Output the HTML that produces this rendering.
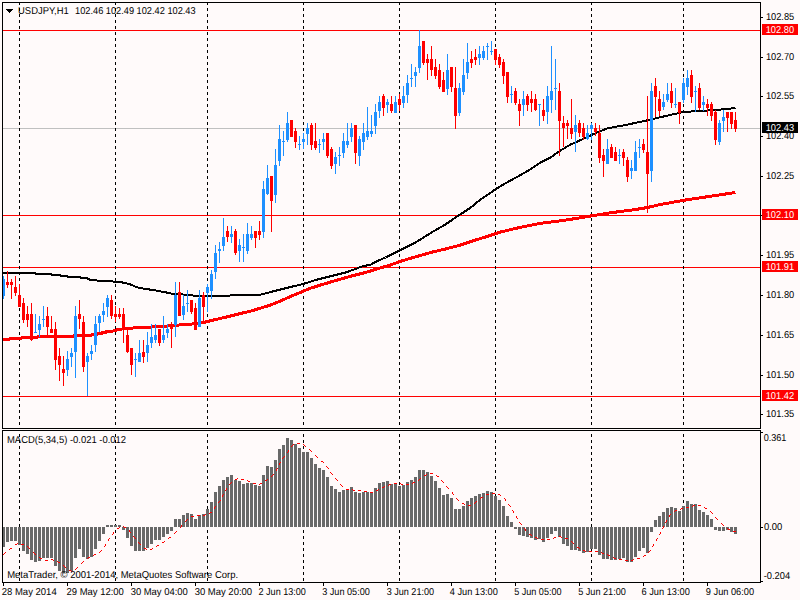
<!DOCTYPE html><html><head><meta charset="utf-8"><style>
html,body{margin:0;padding:0;background:#FFFAFA;width:800px;height:600px;overflow:hidden}
svg{display:block}
text{font-family:"Liberation Sans", sans-serif;font-size:10px;fill:#000;text-rendering:geometricPrecision}
</style></head><body>
<svg width="800" height="600" viewBox="0 0 800 600">
<rect x="0" y="0" width="800" height="600" fill="#FFFAFA"/>
<defs><clipPath id="mainclip"><rect x="3" y="3" width="757" height="425"/></clipPath></defs>
<g shape-rendering="crispEdges">
<rect x="3" y="128" width="757" height="1" fill="#C0C0C0"/>
<rect x="3" y="30" width="757" height="1" fill="#FF0000"/>
<rect x="3" y="215" width="757" height="1" fill="#FF0000"/>
<rect x="3" y="267" width="757" height="1" fill="#FF0000"/>
<rect x="3" y="396" width="757" height="1" fill="#FF0000"/>
</g>
<g shape-rendering="crispEdges" stroke="#000" stroke-width="1" stroke-dasharray="3 3">
<line x1="19.5" y1="2" x2="19.5" y2="428"/>
<line x1="19.5" y1="434" x2="19.5" y2="582"/>
<line x1="115.5" y1="2" x2="115.5" y2="428"/>
<line x1="115.5" y1="434" x2="115.5" y2="582"/>
<line x1="207.5" y1="2" x2="207.5" y2="428"/>
<line x1="207.5" y1="434" x2="207.5" y2="582"/>
<line x1="303.5" y1="2" x2="303.5" y2="428"/>
<line x1="303.5" y1="434" x2="303.5" y2="582"/>
<line x1="399.5" y1="2" x2="399.5" y2="428"/>
<line x1="399.5" y1="434" x2="399.5" y2="582"/>
<line x1="495.5" y1="2" x2="495.5" y2="428"/>
<line x1="495.5" y1="434" x2="495.5" y2="582"/>
<line x1="591.5" y1="2" x2="591.5" y2="428"/>
<line x1="591.5" y1="434" x2="591.5" y2="582"/>
<line x1="683.5" y1="2" x2="683.5" y2="428"/>
<line x1="683.5" y1="434" x2="683.5" y2="582"/>
</g>
<polyline points="1.50,273.00 34.50,273.00 36.50,274.00 50.50,274.00 52.50,275.00 59.50,275.00 61.50,276.00 66.50,276.00 68.50,277.00 79.50,277.00 81.50,278.00 86.50,278.00 89.50,279.50 100.50,280.90 111.50,281.00 114.50,282.10 122.50,282.50 125.50,283.10 131.50,284.75 136.50,287.25 144.50,288.75 154.50,290.25 166.50,292.50 170.50,293.50 175.50,294.00 190.50,295.00 195.50,296.00 220.50,296.00 230.50,295.50 250.50,295.00 259.50,295.00 270.50,292.00 280.50,289.50 290.50,287.00 300.50,284.70 305.50,283.20 315.50,280.00 330.50,276.25 345.50,272.50 355.50,269.00 362.50,266.25 370.50,264.75 375.50,261.90 385.50,257.50 400.50,250.00 415.50,242.50 430.50,233.10 445.50,224.40 458.50,215.60 470.50,207.75 480.50,199.40 490.50,193.00 495.50,189.20 505.50,183.30 520.50,175.00 530.50,169.20 540.50,162.50 550.50,157.50 560.50,150.50 570.50,144.50 577.50,141.50 590.50,135.50 600.50,131.00 607.50,128.30 625.50,125.00 635.50,122.90 647.50,120.30 663.50,116.50 683.50,112.00 695.50,111.20 717.50,109.90 735.50,108.00" fill="none" stroke="#000" stroke-width="2" stroke-linejoin="round" stroke-linecap="butt" shape-rendering="crispEdges" clip-path="url(#mainclip)"/>
<polyline points="1.50,339.50 8.50,339.50 10.50,338.50 20.50,338.50 22.50,337.50 36.50,337.50 38.50,336.50 72.50,336.50 74.50,335.50 90.50,335.50 92.50,334.50 96.50,334.50 97.50,333.50 101.50,333.50 102.50,332.50 105.50,332.50 106.50,331.50 112.50,331.10 118.50,329.40 127.50,328.40 142.50,327.40 163.50,326.40 179.50,325.00 190.50,324.10 198.50,323.60 203.50,322.50 213.50,320.00 225.50,317.30 240.50,313.50 250.50,311.20 260.50,308.10 270.50,305.10 280.50,301.00 290.50,296.50 300.50,292.40 306.50,289.75 310.50,288.25 320.50,285.00 335.50,280.60 350.50,276.25 365.50,272.50 375.50,269.40 390.50,265.00 400.50,261.25 415.50,256.90 430.50,252.50 445.50,249.00 460.50,245.00 475.50,240.00 485.50,237.00 500.50,232.00 520.50,227.30 540.50,223.30 560.50,220.80 580.50,217.80 590.50,216.00 610.50,212.80 635.50,209.50 647.50,207.50 660.50,204.50 685.50,200.00 710.50,196.25 735.50,192.50" fill="none" stroke="#FF0000" stroke-width="3" stroke-linejoin="round" stroke-linecap="butt" shape-rendering="crispEdges" clip-path="url(#mainclip)"/>
<g shape-rendering="crispEdges">
<rect x="3" y="276" width="1" height="23" fill="#1E90FF"/>
<rect x="2" y="279" width="3" height="17" fill="#1E90FF"/>
<rect x="7" y="271" width="1" height="17" fill="#FF0000"/>
<rect x="6" y="282" width="3" height="3" fill="#FF0000"/>
<rect x="11" y="279" width="1" height="20" fill="#FF0000"/>
<rect x="10" y="282" width="3" height="3" fill="#FF0000"/>
<rect x="15" y="276" width="1" height="20" fill="#FF0000"/>
<rect x="14" y="287" width="3" height="6" fill="#FF0000"/>
<rect x="19" y="284" width="1" height="23" fill="#FF0000"/>
<rect x="18" y="295" width="3" height="12" fill="#FF0000"/>
<rect x="23" y="298" width="1" height="25" fill="#FF0000"/>
<rect x="22" y="303" width="3" height="17" fill="#FF0000"/>
<rect x="27" y="306" width="1" height="21" fill="#FF0000"/>
<rect x="26" y="314" width="3" height="6" fill="#FF0000"/>
<rect x="31" y="303" width="1" height="38" fill="#FF0000"/>
<rect x="30" y="314" width="3" height="26" fill="#FF0000"/>
<rect x="35" y="314" width="1" height="19" fill="#1E90FF"/>
<rect x="34" y="332" width="3" height="1" fill="#1E90FF"/>
<rect x="39" y="316" width="1" height="21" fill="#1E90FF"/>
<rect x="38" y="324" width="3" height="6" fill="#1E90FF"/>
<rect x="43" y="306" width="1" height="21" fill="#1E90FF"/>
<rect x="42" y="319" width="3" height="1" fill="#1E90FF"/>
<rect x="47" y="307" width="1" height="28" fill="#FF0000"/>
<rect x="46" y="316" width="3" height="11" fill="#FF0000"/>
<rect x="51" y="316" width="1" height="17" fill="#FF0000"/>
<rect x="50" y="329" width="3" height="4" fill="#FF0000"/>
<rect x="55" y="322" width="1" height="48" fill="#FF0000"/>
<rect x="54" y="329" width="3" height="31" fill="#FF0000"/>
<rect x="59" y="348" width="1" height="33" fill="#FF0000"/>
<rect x="58" y="356" width="3" height="9" fill="#FF0000"/>
<rect x="63" y="356" width="1" height="30" fill="#FF0000"/>
<rect x="62" y="369" width="3" height="4" fill="#FF0000"/>
<rect x="67" y="351" width="1" height="25" fill="#1E90FF"/>
<rect x="66" y="359" width="3" height="11" fill="#1E90FF"/>
<rect x="71" y="348" width="1" height="19" fill="#1E90FF"/>
<rect x="70" y="353" width="3" height="4" fill="#1E90FF"/>
<rect x="75" y="306" width="1" height="72" fill="#1E90FF"/>
<rect x="74" y="316" width="3" height="36" fill="#1E90FF"/>
<rect x="79" y="300" width="1" height="29" fill="#FF0000"/>
<rect x="78" y="314" width="3" height="5" fill="#FF0000"/>
<rect x="83" y="316" width="1" height="56" fill="#FF0000"/>
<rect x="82" y="322" width="3" height="45" fill="#FF0000"/>
<rect x="87" y="353" width="1" height="43" fill="#1E90FF"/>
<rect x="86" y="356" width="3" height="6" fill="#1E90FF"/>
<rect x="91" y="345" width="1" height="15" fill="#1E90FF"/>
<rect x="90" y="351" width="3" height="3" fill="#1E90FF"/>
<rect x="95" y="316" width="1" height="36" fill="#1E90FF"/>
<rect x="94" y="324" width="3" height="21" fill="#1E90FF"/>
<rect x="99" y="314" width="1" height="18" fill="#1E90FF"/>
<rect x="98" y="316" width="3" height="7" fill="#1E90FF"/>
<rect x="103" y="303" width="1" height="19" fill="#1E90FF"/>
<rect x="102" y="311" width="3" height="4" fill="#1E90FF"/>
<rect x="107" y="295" width="1" height="22" fill="#1E90FF"/>
<rect x="106" y="298" width="3" height="9" fill="#1E90FF"/>
<rect x="111" y="295" width="1" height="24" fill="#FF0000"/>
<rect x="110" y="300" width="3" height="16" fill="#FF0000"/>
<rect x="115" y="306" width="1" height="16" fill="#FF0000"/>
<rect x="114" y="314" width="3" height="3" fill="#FF0000"/>
<rect x="119" y="308" width="1" height="11" fill="#FF0000"/>
<rect x="118" y="314" width="3" height="3" fill="#FF0000"/>
<rect x="123" y="308" width="1" height="35" fill="#FF0000"/>
<rect x="122" y="314" width="3" height="16" fill="#FF0000"/>
<rect x="127" y="330" width="1" height="23" fill="#FF0000"/>
<rect x="126" y="335" width="3" height="17" fill="#FF0000"/>
<rect x="131" y="348" width="1" height="27" fill="#FF0000"/>
<rect x="130" y="348" width="3" height="17" fill="#FF0000"/>
<rect x="135" y="353" width="1" height="24" fill="#1E90FF"/>
<rect x="134" y="359" width="3" height="1" fill="#1E90FF"/>
<rect x="139" y="340" width="1" height="22" fill="#1E90FF"/>
<rect x="138" y="353" width="3" height="9" fill="#1E90FF"/>
<rect x="143" y="340" width="1" height="23" fill="#FF0000"/>
<rect x="142" y="352" width="3" height="5" fill="#FF0000"/>
<rect x="147" y="332" width="1" height="30" fill="#1E90FF"/>
<rect x="146" y="345" width="3" height="8" fill="#1E90FF"/>
<rect x="151" y="324" width="1" height="24" fill="#1E90FF"/>
<rect x="150" y="337" width="3" height="6" fill="#1E90FF"/>
<rect x="155" y="324" width="1" height="19" fill="#1E90FF"/>
<rect x="154" y="335" width="3" height="5" fill="#1E90FF"/>
<rect x="159" y="329" width="1" height="17" fill="#FF0000"/>
<rect x="158" y="329" width="3" height="14" fill="#FF0000"/>
<rect x="163" y="316" width="1" height="27" fill="#1E90FF"/>
<rect x="162" y="335" width="3" height="5" fill="#1E90FF"/>
<rect x="167" y="324" width="1" height="14" fill="#1E90FF"/>
<rect x="166" y="329" width="3" height="4" fill="#1E90FF"/>
<rect x="171" y="322" width="1" height="26" fill="#FF0000"/>
<rect x="170" y="326" width="3" height="3" fill="#FF0000"/>
<rect x="175" y="282" width="1" height="55" fill="#1E90FF"/>
<rect x="174" y="295" width="3" height="30" fill="#1E90FF"/>
<rect x="179" y="282" width="1" height="34" fill="#FF0000"/>
<rect x="178" y="292" width="3" height="24" fill="#FF0000"/>
<rect x="183" y="295" width="1" height="25" fill="#1E90FF"/>
<rect x="182" y="306" width="3" height="9" fill="#1E90FF"/>
<rect x="187" y="290" width="1" height="22" fill="#1E90FF"/>
<rect x="186" y="303" width="3" height="1" fill="#1E90FF"/>
<rect x="191" y="300" width="1" height="14" fill="#FF0000"/>
<rect x="190" y="300" width="3" height="12" fill="#FF0000"/>
<rect x="195" y="303" width="1" height="27" fill="#FF0000"/>
<rect x="194" y="308" width="3" height="22" fill="#FF0000"/>
<rect x="199" y="290" width="1" height="37" fill="#1E90FF"/>
<rect x="198" y="298" width="3" height="29" fill="#1E90FF"/>
<rect x="203" y="292" width="1" height="29" fill="#FF0000"/>
<rect x="202" y="295" width="3" height="12" fill="#FF0000"/>
<rect x="207" y="284" width="1" height="28" fill="#1E90FF"/>
<rect x="206" y="287" width="3" height="6" fill="#1E90FF"/>
<rect x="211" y="270" width="1" height="29" fill="#1E90FF"/>
<rect x="210" y="274" width="3" height="17" fill="#1E90FF"/>
<rect x="215" y="245" width="1" height="34" fill="#1E90FF"/>
<rect x="214" y="253" width="3" height="19" fill="#1E90FF"/>
<rect x="219" y="242" width="1" height="21" fill="#1E90FF"/>
<rect x="218" y="249" width="3" height="2" fill="#1E90FF"/>
<rect x="223" y="218" width="1" height="33" fill="#1E90FF"/>
<rect x="222" y="237" width="3" height="9" fill="#1E90FF"/>
<rect x="227" y="226" width="1" height="16" fill="#FF0000"/>
<rect x="226" y="231" width="3" height="6" fill="#FF0000"/>
<rect x="231" y="226" width="1" height="17" fill="#1E90FF"/>
<rect x="230" y="234" width="3" height="3" fill="#1E90FF"/>
<rect x="235" y="229" width="1" height="26" fill="#FF0000"/>
<rect x="234" y="231" width="3" height="22" fill="#FF0000"/>
<rect x="239" y="239" width="1" height="23" fill="#1E90FF"/>
<rect x="238" y="245" width="3" height="6" fill="#1E90FF"/>
<rect x="243" y="234" width="1" height="28" fill="#1E90FF"/>
<rect x="242" y="247" width="3" height="1" fill="#1E90FF"/>
<rect x="247" y="223" width="1" height="31" fill="#1E90FF"/>
<rect x="246" y="234" width="3" height="17" fill="#1E90FF"/>
<rect x="251" y="226" width="1" height="14" fill="#1E90FF"/>
<rect x="250" y="234" width="3" height="4" fill="#1E90FF"/>
<rect x="255" y="231" width="1" height="17" fill="#FF0000"/>
<rect x="254" y="231" width="3" height="7" fill="#FF0000"/>
<rect x="259" y="221" width="1" height="19" fill="#FF0000"/>
<rect x="258" y="231" width="3" height="4" fill="#FF0000"/>
<rect x="263" y="181" width="1" height="57" fill="#1E90FF"/>
<rect x="262" y="189" width="3" height="43" fill="#1E90FF"/>
<rect x="267" y="165" width="1" height="30" fill="#1E90FF"/>
<rect x="266" y="178" width="3" height="16" fill="#1E90FF"/>
<rect x="271" y="176" width="1" height="56" fill="#FF0000"/>
<rect x="270" y="176" width="3" height="25" fill="#FF0000"/>
<rect x="275" y="149" width="1" height="54" fill="#1E90FF"/>
<rect x="274" y="165" width="3" height="30" fill="#1E90FF"/>
<rect x="279" y="125" width="1" height="41" fill="#1E90FF"/>
<rect x="278" y="139" width="3" height="22" fill="#1E90FF"/>
<rect x="283" y="131" width="1" height="25" fill="#1E90FF"/>
<rect x="282" y="141" width="3" height="1" fill="#1E90FF"/>
<rect x="287" y="112" width="1" height="30" fill="#1E90FF"/>
<rect x="286" y="123" width="3" height="17" fill="#1E90FF"/>
<rect x="291" y="120" width="1" height="17" fill="#FF0000"/>
<rect x="290" y="120" width="3" height="17" fill="#FF0000"/>
<rect x="295" y="128" width="1" height="20" fill="#FF0000"/>
<rect x="294" y="131" width="3" height="11" fill="#FF0000"/>
<rect x="299" y="136" width="1" height="14" fill="#1E90FF"/>
<rect x="298" y="144" width="3" height="1" fill="#1E90FF"/>
<rect x="303" y="133" width="1" height="16" fill="#1E90FF"/>
<rect x="302" y="139" width="3" height="3" fill="#1E90FF"/>
<rect x="307" y="123" width="1" height="22" fill="#1E90FF"/>
<rect x="306" y="128" width="3" height="6" fill="#1E90FF"/>
<rect x="311" y="123" width="1" height="27" fill="#FF0000"/>
<rect x="310" y="125" width="3" height="20" fill="#FF0000"/>
<rect x="315" y="123" width="1" height="27" fill="#FF0000"/>
<rect x="314" y="141" width="3" height="7" fill="#FF0000"/>
<rect x="319" y="139" width="1" height="14" fill="#1E90FF"/>
<rect x="318" y="144" width="3" height="1" fill="#1E90FF"/>
<rect x="323" y="133" width="1" height="17" fill="#1E90FF"/>
<rect x="322" y="139" width="3" height="3" fill="#1E90FF"/>
<rect x="327" y="133" width="1" height="25" fill="#FF0000"/>
<rect x="326" y="133" width="3" height="23" fill="#FF0000"/>
<rect x="331" y="147" width="1" height="22" fill="#FF0000"/>
<rect x="330" y="149" width="3" height="17" fill="#FF0000"/>
<rect x="335" y="152" width="1" height="22" fill="#1E90FF"/>
<rect x="334" y="157" width="3" height="7" fill="#1E90FF"/>
<rect x="339" y="147" width="1" height="19" fill="#1E90FF"/>
<rect x="338" y="155" width="3" height="1" fill="#1E90FF"/>
<rect x="343" y="133" width="1" height="25" fill="#1E90FF"/>
<rect x="342" y="141" width="3" height="12" fill="#1E90FF"/>
<rect x="347" y="123" width="1" height="25" fill="#1E90FF"/>
<rect x="346" y="141" width="3" height="4" fill="#1E90FF"/>
<rect x="351" y="123" width="1" height="19" fill="#1E90FF"/>
<rect x="350" y="128" width="3" height="9" fill="#1E90FF"/>
<rect x="355" y="125" width="1" height="39" fill="#FF0000"/>
<rect x="354" y="125" width="3" height="28" fill="#FF0000"/>
<rect x="359" y="136" width="1" height="30" fill="#1E90FF"/>
<rect x="358" y="139" width="3" height="17" fill="#1E90FF"/>
<rect x="363" y="123" width="1" height="27" fill="#1E90FF"/>
<rect x="362" y="133" width="3" height="9" fill="#1E90FF"/>
<rect x="367" y="107" width="1" height="33" fill="#1E90FF"/>
<rect x="366" y="131" width="3" height="6" fill="#1E90FF"/>
<rect x="371" y="115" width="1" height="22" fill="#1E90FF"/>
<rect x="370" y="131" width="3" height="3" fill="#1E90FF"/>
<rect x="375" y="104" width="1" height="30" fill="#1E90FF"/>
<rect x="374" y="112" width="3" height="14" fill="#1E90FF"/>
<rect x="379" y="96" width="1" height="22" fill="#1E90FF"/>
<rect x="378" y="102" width="3" height="9" fill="#1E90FF"/>
<rect x="383" y="94" width="1" height="22" fill="#FF0000"/>
<rect x="382" y="96" width="3" height="12" fill="#FF0000"/>
<rect x="387" y="99" width="1" height="14" fill="#1E90FF"/>
<rect x="386" y="102" width="3" height="3" fill="#1E90FF"/>
<rect x="391" y="96" width="1" height="17" fill="#FF0000"/>
<rect x="390" y="104" width="3" height="7" fill="#FF0000"/>
<rect x="395" y="96" width="1" height="17" fill="#1E90FF"/>
<rect x="394" y="102" width="3" height="11" fill="#1E90FF"/>
<rect x="399" y="94" width="1" height="17" fill="#FF0000"/>
<rect x="398" y="99" width="3" height="6" fill="#FF0000"/>
<rect x="403" y="86" width="1" height="22" fill="#1E90FF"/>
<rect x="402" y="96" width="3" height="7" fill="#1E90FF"/>
<rect x="407" y="75" width="1" height="28" fill="#1E90FF"/>
<rect x="406" y="83" width="3" height="12" fill="#1E90FF"/>
<rect x="411" y="64" width="1" height="23" fill="#1E90FF"/>
<rect x="410" y="78" width="3" height="1" fill="#1E90FF"/>
<rect x="415" y="67" width="1" height="20" fill="#1E90FF"/>
<rect x="414" y="72" width="3" height="4" fill="#1E90FF"/>
<rect x="419" y="30" width="1" height="43" fill="#1E90FF"/>
<rect x="418" y="46" width="3" height="22" fill="#1E90FF"/>
<rect x="423" y="41" width="1" height="24" fill="#FF0000"/>
<rect x="422" y="41" width="3" height="22" fill="#FF0000"/>
<rect x="427" y="54" width="1" height="26" fill="#FF0000"/>
<rect x="426" y="59" width="3" height="4" fill="#FF0000"/>
<rect x="431" y="46" width="1" height="30" fill="#FF0000"/>
<rect x="430" y="59" width="3" height="11" fill="#FF0000"/>
<rect x="435" y="59" width="1" height="20" fill="#FF0000"/>
<rect x="434" y="67" width="3" height="9" fill="#FF0000"/>
<rect x="439" y="64" width="1" height="25" fill="#FF0000"/>
<rect x="438" y="70" width="3" height="17" fill="#FF0000"/>
<rect x="443" y="72" width="1" height="20" fill="#FF0000"/>
<rect x="442" y="80" width="3" height="12" fill="#FF0000"/>
<rect x="447" y="54" width="1" height="41" fill="#1E90FF"/>
<rect x="446" y="70" width="3" height="19" fill="#1E90FF"/>
<rect x="451" y="67" width="1" height="25" fill="#FF0000"/>
<rect x="450" y="67" width="3" height="20" fill="#FF0000"/>
<rect x="455" y="67" width="1" height="62" fill="#FF0000"/>
<rect x="454" y="88" width="3" height="28" fill="#FF0000"/>
<rect x="459" y="83" width="1" height="33" fill="#1E90FF"/>
<rect x="458" y="88" width="3" height="25" fill="#1E90FF"/>
<rect x="463" y="59" width="1" height="36" fill="#1E90FF"/>
<rect x="462" y="75" width="3" height="17" fill="#1E90FF"/>
<rect x="467" y="43" width="1" height="36" fill="#1E90FF"/>
<rect x="466" y="62" width="3" height="11" fill="#1E90FF"/>
<rect x="471" y="51" width="1" height="17" fill="#FF0000"/>
<rect x="470" y="59" width="3" height="4" fill="#FF0000"/>
<rect x="475" y="49" width="1" height="16" fill="#FF0000"/>
<rect x="474" y="57" width="3" height="3" fill="#FF0000"/>
<rect x="479" y="46" width="1" height="19" fill="#1E90FF"/>
<rect x="478" y="54" width="3" height="4" fill="#1E90FF"/>
<rect x="483" y="46" width="1" height="14" fill="#1E90FF"/>
<rect x="482" y="51" width="3" height="7" fill="#1E90FF"/>
<rect x="487" y="43" width="1" height="17" fill="#1E90FF"/>
<rect x="486" y="46" width="3" height="1" fill="#1E90FF"/>
<rect x="491" y="41" width="1" height="14" fill="#1E90FF"/>
<rect x="490" y="51" width="3" height="1" fill="#1E90FF"/>
<rect x="495" y="49" width="1" height="16" fill="#FF0000"/>
<rect x="494" y="49" width="3" height="11" fill="#FF0000"/>
<rect x="499" y="54" width="1" height="14" fill="#FF0000"/>
<rect x="498" y="57" width="3" height="8" fill="#FF0000"/>
<rect x="503" y="59" width="1" height="25" fill="#FF0000"/>
<rect x="502" y="62" width="3" height="14" fill="#FF0000"/>
<rect x="507" y="72" width="1" height="31" fill="#FF0000"/>
<rect x="506" y="72" width="3" height="25" fill="#FF0000"/>
<rect x="511" y="86" width="1" height="17" fill="#1E90FF"/>
<rect x="510" y="94" width="3" height="1" fill="#1E90FF"/>
<rect x="515" y="88" width="1" height="17" fill="#FF0000"/>
<rect x="514" y="91" width="3" height="12" fill="#FF0000"/>
<rect x="519" y="99" width="1" height="27" fill="#FF0000"/>
<rect x="518" y="104" width="3" height="7" fill="#FF0000"/>
<rect x="523" y="91" width="1" height="25" fill="#1E90FF"/>
<rect x="522" y="99" width="3" height="6" fill="#1E90FF"/>
<rect x="527" y="94" width="1" height="17" fill="#FF0000"/>
<rect x="526" y="96" width="3" height="9" fill="#FF0000"/>
<rect x="531" y="91" width="1" height="21" fill="#FF0000"/>
<rect x="530" y="99" width="3" height="4" fill="#FF0000"/>
<rect x="535" y="94" width="1" height="17" fill="#FF0000"/>
<rect x="534" y="99" width="3" height="11" fill="#FF0000"/>
<rect x="539" y="104" width="1" height="22" fill="#1E90FF"/>
<rect x="538" y="104" width="3" height="1" fill="#1E90FF"/>
<rect x="543" y="99" width="1" height="22" fill="#FF0000"/>
<rect x="542" y="110" width="3" height="6" fill="#FF0000"/>
<rect x="547" y="86" width="1" height="38" fill="#1E90FF"/>
<rect x="546" y="96" width="3" height="16" fill="#1E90FF"/>
<rect x="551" y="46" width="1" height="67" fill="#1E90FF"/>
<rect x="550" y="91" width="3" height="9" fill="#1E90FF"/>
<rect x="555" y="59" width="1" height="51" fill="#1E90FF"/>
<rect x="554" y="88" width="3" height="1" fill="#1E90FF"/>
<rect x="559" y="83" width="1" height="73" fill="#FF0000"/>
<rect x="558" y="91" width="3" height="30" fill="#FF0000"/>
<rect x="563" y="116" width="1" height="31" fill="#FF0000"/>
<rect x="562" y="123" width="3" height="5" fill="#FF0000"/>
<rect x="567" y="120" width="1" height="19" fill="#FF0000"/>
<rect x="566" y="123" width="3" height="3" fill="#FF0000"/>
<rect x="571" y="99" width="1" height="40" fill="#FF0000"/>
<rect x="570" y="128" width="3" height="6" fill="#FF0000"/>
<rect x="575" y="115" width="1" height="37" fill="#1E90FF"/>
<rect x="574" y="125" width="3" height="7" fill="#1E90FF"/>
<rect x="579" y="120" width="1" height="17" fill="#FF0000"/>
<rect x="578" y="123" width="3" height="10" fill="#FF0000"/>
<rect x="583" y="123" width="1" height="17" fill="#FF0000"/>
<rect x="582" y="128" width="3" height="9" fill="#FF0000"/>
<rect x="587" y="125" width="1" height="15" fill="#1E90FF"/>
<rect x="586" y="133" width="3" height="6" fill="#1E90FF"/>
<rect x="591" y="123" width="1" height="17" fill="#1E90FF"/>
<rect x="590" y="125" width="3" height="4" fill="#1E90FF"/>
<rect x="595" y="123" width="1" height="13" fill="#FF0000"/>
<rect x="594" y="128" width="3" height="4" fill="#FF0000"/>
<rect x="599" y="125" width="1" height="38" fill="#FF0000"/>
<rect x="598" y="133" width="3" height="25" fill="#FF0000"/>
<rect x="603" y="149" width="1" height="28" fill="#FF0000"/>
<rect x="602" y="155" width="3" height="6" fill="#FF0000"/>
<rect x="607" y="139" width="1" height="25" fill="#1E90FF"/>
<rect x="606" y="149" width="3" height="15" fill="#1E90FF"/>
<rect x="611" y="144" width="1" height="14" fill="#FF0000"/>
<rect x="610" y="147" width="3" height="11" fill="#FF0000"/>
<rect x="615" y="147" width="1" height="14" fill="#FF0000"/>
<rect x="614" y="152" width="3" height="9" fill="#FF0000"/>
<rect x="619" y="149" width="1" height="15" fill="#1E90FF"/>
<rect x="618" y="155" width="3" height="1" fill="#1E90FF"/>
<rect x="623" y="149" width="1" height="17" fill="#FF0000"/>
<rect x="622" y="152" width="3" height="6" fill="#FF0000"/>
<rect x="627" y="157" width="1" height="25" fill="#FF0000"/>
<rect x="626" y="160" width="3" height="17" fill="#FF0000"/>
<rect x="631" y="160" width="1" height="19" fill="#1E90FF"/>
<rect x="630" y="168" width="3" height="3" fill="#1E90FF"/>
<rect x="635" y="141" width="1" height="30" fill="#1E90FF"/>
<rect x="634" y="152" width="3" height="19" fill="#1E90FF"/>
<rect x="639" y="139" width="1" height="19" fill="#1E90FF"/>
<rect x="638" y="147" width="3" height="1" fill="#1E90FF"/>
<rect x="643" y="139" width="1" height="14" fill="#FF0000"/>
<rect x="642" y="144" width="3" height="6" fill="#FF0000"/>
<rect x="647" y="96" width="1" height="117" fill="#FF0000"/>
<rect x="646" y="152" width="3" height="22" fill="#FF0000"/>
<rect x="651" y="83" width="1" height="99" fill="#1E90FF"/>
<rect x="650" y="91" width="3" height="80" fill="#1E90FF"/>
<rect x="655" y="78" width="1" height="39" fill="#FF0000"/>
<rect x="654" y="86" width="3" height="11" fill="#FF0000"/>
<rect x="659" y="91" width="1" height="25" fill="#FF0000"/>
<rect x="658" y="99" width="3" height="12" fill="#FF0000"/>
<rect x="663" y="94" width="1" height="16" fill="#1E90FF"/>
<rect x="662" y="102" width="3" height="5" fill="#1E90FF"/>
<rect x="667" y="83" width="1" height="19" fill="#1E90FF"/>
<rect x="666" y="94" width="3" height="6" fill="#1E90FF"/>
<rect x="671" y="83" width="1" height="25" fill="#FF0000"/>
<rect x="670" y="91" width="3" height="12" fill="#FF0000"/>
<rect x="675" y="88" width="1" height="20" fill="#1E90FF"/>
<rect x="674" y="104" width="3" height="1" fill="#1E90FF"/>
<rect x="679" y="102" width="1" height="22" fill="#FF0000"/>
<rect x="678" y="102" width="3" height="11" fill="#FF0000"/>
<rect x="683" y="78" width="1" height="25" fill="#1E90FF"/>
<rect x="682" y="83" width="3" height="17" fill="#1E90FF"/>
<rect x="687" y="70" width="1" height="25" fill="#1E90FF"/>
<rect x="686" y="78" width="3" height="9" fill="#1E90FF"/>
<rect x="691" y="70" width="1" height="33" fill="#FF0000"/>
<rect x="690" y="75" width="3" height="22" fill="#FF0000"/>
<rect x="695" y="86" width="1" height="26" fill="#1E90FF"/>
<rect x="694" y="91" width="3" height="1" fill="#1E90FF"/>
<rect x="699" y="83" width="1" height="27" fill="#FF0000"/>
<rect x="698" y="88" width="3" height="20" fill="#FF0000"/>
<rect x="703" y="96" width="1" height="15" fill="#1E90FF"/>
<rect x="702" y="102" width="3" height="3" fill="#1E90FF"/>
<rect x="707" y="99" width="1" height="17" fill="#FF0000"/>
<rect x="706" y="104" width="3" height="4" fill="#FF0000"/>
<rect x="711" y="102" width="1" height="19" fill="#FF0000"/>
<rect x="710" y="104" width="3" height="12" fill="#FF0000"/>
<rect x="715" y="110" width="1" height="35" fill="#FF0000"/>
<rect x="714" y="112" width="3" height="28" fill="#FF0000"/>
<rect x="719" y="120" width="1" height="25" fill="#1E90FF"/>
<rect x="718" y="123" width="3" height="19" fill="#1E90FF"/>
<rect x="723" y="110" width="1" height="22" fill="#1E90FF"/>
<rect x="722" y="117" width="3" height="4" fill="#1E90FF"/>
<rect x="727" y="112" width="1" height="20" fill="#FF0000"/>
<rect x="726" y="112" width="3" height="6" fill="#FF0000"/>
<rect x="731" y="112" width="1" height="17" fill="#FF0000"/>
<rect x="730" y="112" width="3" height="12" fill="#FF0000"/>
<rect x="735" y="112" width="1" height="20" fill="#FF0000"/>
<rect x="734" y="120" width="3" height="9" fill="#FF0000"/>
</g>
<g shape-rendering="crispEdges" fill="#696969">
<rect x="2" y="527" width="3" height="20"/>
<rect x="6" y="527" width="3" height="15"/>
<rect x="10" y="527" width="3" height="14"/>
<rect x="14" y="527" width="3" height="14"/>
<rect x="18" y="527" width="3" height="18"/>
<rect x="22" y="527" width="3" height="24"/>
<rect x="26" y="527" width="3" height="27"/>
<rect x="30" y="527" width="3" height="33"/>
<rect x="34" y="527" width="3" height="35"/>
<rect x="38" y="527" width="3" height="34"/>
<rect x="42" y="527" width="3" height="31"/>
<rect x="46" y="527" width="3" height="31"/>
<rect x="50" y="527" width="3" height="31"/>
<rect x="54" y="527" width="3" height="39"/>
<rect x="58" y="527" width="3" height="44"/>
<rect x="62" y="527" width="3" height="46"/>
<rect x="66" y="527" width="3" height="46"/>
<rect x="70" y="527" width="3" height="44"/>
<rect x="74" y="527" width="3" height="31"/>
<rect x="78" y="527" width="3" height="22"/>
<rect x="82" y="527" width="3" height="30"/>
<rect x="86" y="527" width="3" height="32"/>
<rect x="90" y="527" width="3" height="30"/>
<rect x="94" y="527" width="3" height="22"/>
<rect x="98" y="527" width="3" height="14"/>
<rect x="102" y="527" width="3" height="7"/>
<rect x="106" y="525" width="3" height="2"/>
<rect x="110" y="525" width="3" height="2"/>
<rect x="114" y="525" width="3" height="2"/>
<rect x="118" y="525" width="3" height="2"/>
<rect x="122" y="527" width="3" height="3"/>
<rect x="126" y="527" width="3" height="11"/>
<rect x="130" y="527" width="3" height="19"/>
<rect x="134" y="527" width="3" height="24"/>
<rect x="138" y="527" width="3" height="24"/>
<rect x="142" y="527" width="3" height="24"/>
<rect x="146" y="527" width="3" height="21"/>
<rect x="150" y="527" width="3" height="17"/>
<rect x="154" y="527" width="3" height="13"/>
<rect x="158" y="527" width="3" height="13"/>
<rect x="162" y="527" width="3" height="10"/>
<rect x="166" y="527" width="3" height="7"/>
<rect x="170" y="527" width="3" height="4"/>
<rect x="174" y="519" width="3" height="8"/>
<rect x="178" y="519" width="3" height="8"/>
<rect x="182" y="515" width="3" height="12"/>
<rect x="186" y="513" width="3" height="14"/>
<rect x="190" y="514" width="3" height="13"/>
<rect x="194" y="519" width="3" height="8"/>
<rect x="198" y="515" width="3" height="12"/>
<rect x="202" y="514" width="3" height="13"/>
<rect x="206" y="509" width="3" height="18"/>
<rect x="210" y="502" width="3" height="25"/>
<rect x="214" y="492" width="3" height="35"/>
<rect x="218" y="486" width="3" height="41"/>
<rect x="222" y="480" width="3" height="47"/>
<rect x="226" y="477" width="3" height="50"/>
<rect x="230" y="475" width="3" height="52"/>
<rect x="234" y="480" width="3" height="47"/>
<rect x="238" y="481" width="3" height="46"/>
<rect x="242" y="484" width="3" height="43"/>
<rect x="246" y="483" width="3" height="44"/>
<rect x="250" y="483" width="3" height="44"/>
<rect x="254" y="485" width="3" height="42"/>
<rect x="258" y="486" width="3" height="41"/>
<rect x="262" y="475" width="3" height="52"/>
<rect x="266" y="466" width="3" height="61"/>
<rect x="270" y="467" width="3" height="60"/>
<rect x="274" y="460" width="3" height="67"/>
<rect x="278" y="449" width="3" height="78"/>
<rect x="282" y="445" width="3" height="82"/>
<rect x="286" y="438" width="3" height="89"/>
<rect x="290" y="440" width="3" height="87"/>
<rect x="294" y="444" width="3" height="83"/>
<rect x="298" y="448" width="3" height="79"/>
<rect x="302" y="452" width="3" height="75"/>
<rect x="306" y="452" width="3" height="75"/>
<rect x="310" y="458" width="3" height="69"/>
<rect x="314" y="464" width="3" height="63"/>
<rect x="318" y="468" width="3" height="59"/>
<rect x="322" y="470" width="3" height="57"/>
<rect x="326" y="477" width="3" height="50"/>
<rect x="330" y="486" width="3" height="41"/>
<rect x="334" y="489" width="3" height="38"/>
<rect x="338" y="492" width="3" height="35"/>
<rect x="342" y="490" width="3" height="37"/>
<rect x="346" y="490" width="3" height="37"/>
<rect x="350" y="487" width="3" height="40"/>
<rect x="354" y="492" width="3" height="35"/>
<rect x="358" y="493" width="3" height="34"/>
<rect x="362" y="492" width="3" height="35"/>
<rect x="366" y="492" width="3" height="35"/>
<rect x="370" y="492" width="3" height="35"/>
<rect x="374" y="488" width="3" height="39"/>
<rect x="378" y="483" width="3" height="44"/>
<rect x="382" y="482" width="3" height="45"/>
<rect x="386" y="481" width="3" height="46"/>
<rect x="390" y="484" width="3" height="43"/>
<rect x="394" y="484" width="3" height="43"/>
<rect x="398" y="486" width="3" height="41"/>
<rect x="402" y="485" width="3" height="42"/>
<rect x="406" y="482" width="3" height="45"/>
<rect x="410" y="480" width="3" height="47"/>
<rect x="414" y="477" width="3" height="50"/>
<rect x="418" y="470" width="3" height="57"/>
<rect x="422" y="470" width="3" height="57"/>
<rect x="426" y="472" width="3" height="55"/>
<rect x="430" y="476" width="3" height="51"/>
<rect x="434" y="481" width="3" height="46"/>
<rect x="438" y="488" width="3" height="39"/>
<rect x="442" y="495" width="3" height="32"/>
<rect x="446" y="494" width="3" height="33"/>
<rect x="450" y="498" width="3" height="29"/>
<rect x="454" y="509" width="3" height="18"/>
<rect x="458" y="509" width="3" height="18"/>
<rect x="462" y="506" width="3" height="21"/>
<rect x="466" y="501" width="3" height="26"/>
<rect x="470" y="498" width="3" height="29"/>
<rect x="474" y="496" width="3" height="31"/>
<rect x="478" y="494" width="3" height="33"/>
<rect x="482" y="493" width="3" height="34"/>
<rect x="486" y="491" width="3" height="36"/>
<rect x="490" y="492" width="3" height="35"/>
<rect x="494" y="496" width="3" height="31"/>
<rect x="498" y="500" width="3" height="27"/>
<rect x="502" y="506" width="3" height="21"/>
<rect x="506" y="516" width="3" height="11"/>
<rect x="510" y="522" width="3" height="5"/>
<rect x="514" y="527" width="3" height="2"/>
<rect x="518" y="527" width="3" height="8"/>
<rect x="522" y="527" width="3" height="9"/>
<rect x="526" y="527" width="3" height="10"/>
<rect x="530" y="527" width="3" height="11"/>
<rect x="534" y="527" width="3" height="13"/>
<rect x="538" y="527" width="3" height="12"/>
<rect x="542" y="527" width="3" height="15"/>
<rect x="546" y="527" width="3" height="11"/>
<rect x="550" y="527" width="3" height="7"/>
<rect x="554" y="527" width="3" height="4"/>
<rect x="558" y="527" width="3" height="10"/>
<rect x="562" y="527" width="3" height="17"/>
<rect x="566" y="527" width="3" height="19"/>
<rect x="570" y="527" width="3" height="23"/>
<rect x="574" y="527" width="3" height="23"/>
<rect x="578" y="527" width="3" height="24"/>
<rect x="582" y="527" width="3" height="26"/>
<rect x="586" y="527" width="3" height="25"/>
<rect x="590" y="527" width="3" height="22"/>
<rect x="594" y="527" width="3" height="22"/>
<rect x="598" y="527" width="3" height="28"/>
<rect x="602" y="527" width="3" height="32"/>
<rect x="606" y="527" width="3" height="32"/>
<rect x="610" y="527" width="3" height="33"/>
<rect x="614" y="527" width="3" height="33"/>
<rect x="618" y="527" width="3" height="32"/>
<rect x="622" y="527" width="3" height="31"/>
<rect x="626" y="527" width="3" height="35"/>
<rect x="630" y="527" width="3" height="35"/>
<rect x="634" y="527" width="3" height="30"/>
<rect x="638" y="527" width="3" height="24"/>
<rect x="642" y="527" width="3" height="21"/>
<rect x="646" y="527" width="3" height="26"/>
<rect x="650" y="527" width="3" height="5"/>
<rect x="654" y="520" width="3" height="7"/>
<rect x="658" y="516" width="3" height="11"/>
<rect x="662" y="512" width="3" height="15"/>
<rect x="666" y="508" width="3" height="19"/>
<rect x="670" y="507" width="3" height="20"/>
<rect x="674" y="508" width="3" height="19"/>
<rect x="678" y="511" width="3" height="16"/>
<rect x="682" y="506" width="3" height="21"/>
<rect x="686" y="501" width="3" height="26"/>
<rect x="690" y="504" width="3" height="23"/>
<rect x="694" y="504" width="3" height="23"/>
<rect x="698" y="510" width="3" height="17"/>
<rect x="702" y="512" width="3" height="15"/>
<rect x="706" y="515" width="3" height="12"/>
<rect x="710" y="519" width="3" height="8"/>
<rect x="714" y="527" width="3" height="3"/>
<rect x="718" y="527" width="3" height="4"/>
<rect x="722" y="527" width="3" height="4"/>
<rect x="726" y="527" width="3" height="3"/>
<rect x="730" y="527" width="3" height="5"/>
<rect x="734" y="527" width="3" height="7"/>
</g>
<g fill="#FF0000" shape-rendering="crispEdges">
<rect x="3" y="554" width="1" height="1"/>
<rect x="4" y="553" width="1" height="1"/>
<rect x="5" y="552" width="1" height="1"/>
<rect x="9" y="549" width="1" height="1"/>
<rect x="10" y="548" width="1" height="1"/>
<rect x="11" y="548" width="1" height="1"/>
<rect x="15" y="544" width="1" height="1"/>
<rect x="16" y="544" width="1" height="1"/>
<rect x="17" y="543" width="1" height="1"/>
<rect x="21" y="544" width="1" height="1"/>
<rect x="22" y="544" width="1" height="1"/>
<rect x="23" y="544" width="1" height="1"/>
<rect x="27" y="546" width="1" height="1"/>
<rect x="28" y="547" width="1" height="1"/>
<rect x="29" y="548" width="1" height="1"/>
<rect x="33" y="552" width="1" height="1"/>
<rect x="34" y="553" width="1" height="1"/>
<rect x="35" y="554" width="1" height="1"/>
<rect x="39" y="557" width="1" height="1"/>
<rect x="40" y="558" width="1" height="1"/>
<rect x="41" y="558" width="1" height="1"/>
<rect x="45" y="560" width="1" height="1"/>
<rect x="46" y="560" width="1" height="1"/>
<rect x="47" y="560" width="1" height="1"/>
<rect x="51" y="559" width="1" height="1"/>
<rect x="52" y="559" width="1" height="1"/>
<rect x="53" y="560" width="1" height="1"/>
<rect x="57" y="561" width="1" height="1"/>
<rect x="58" y="562" width="1" height="1"/>
<rect x="59" y="562" width="1" height="1"/>
<rect x="63" y="565" width="1" height="1"/>
<rect x="64" y="566" width="1" height="1"/>
<rect x="65" y="567" width="1" height="1"/>
<rect x="69" y="570" width="1" height="1"/>
<rect x="70" y="570" width="1" height="1"/>
<rect x="71" y="571" width="1" height="1"/>
<rect x="75" y="569" width="1" height="1"/>
<rect x="76" y="568" width="1" height="1"/>
<rect x="77" y="567" width="1" height="1"/>
<rect x="81" y="563" width="1" height="1"/>
<rect x="82" y="562" width="1" height="1"/>
<rect x="83" y="561" width="1" height="1"/>
<rect x="87" y="558" width="1" height="1"/>
<rect x="88" y="557" width="1" height="1"/>
<rect x="89" y="557" width="1" height="1"/>
<rect x="93" y="555" width="1" height="1"/>
<rect x="94" y="554" width="1" height="1"/>
<rect x="95" y="554" width="1" height="1"/>
<rect x="99" y="552" width="1" height="1"/>
<rect x="100" y="551" width="1" height="1"/>
<rect x="101" y="550" width="1" height="1"/>
<rect x="104" y="546" width="1" height="1"/>
<rect x="105" y="545" width="1" height="1"/>
<rect x="105" y="544" width="1" height="1"/>
<rect x="108" y="540" width="1" height="1"/>
<rect x="108" y="539" width="1" height="1"/>
<rect x="109" y="538" width="1" height="1"/>
<rect x="112" y="534" width="1" height="1"/>
<rect x="113" y="533" width="1" height="1"/>
<rect x="113" y="532" width="1" height="1"/>
<rect x="117" y="528" width="1" height="1"/>
<rect x="118" y="528" width="1" height="1"/>
<rect x="119" y="527" width="1" height="1"/>
<rect x="123" y="526" width="1" height="1"/>
<rect x="124" y="527" width="1" height="1"/>
<rect x="125" y="527" width="1" height="1"/>
<rect x="129" y="530" width="1" height="1"/>
<rect x="129" y="531" width="1" height="1"/>
<rect x="130" y="532" width="1" height="1"/>
<rect x="133" y="536" width="1" height="1"/>
<rect x="134" y="537" width="1" height="1"/>
<rect x="135" y="538" width="1" height="1"/>
<rect x="138" y="542" width="1" height="1"/>
<rect x="139" y="543" width="1" height="1"/>
<rect x="140" y="544" width="1" height="1"/>
<rect x="144" y="548" width="1" height="1"/>
<rect x="145" y="548" width="1" height="1"/>
<rect x="146" y="549" width="1" height="1"/>
<rect x="150" y="549" width="1" height="1"/>
<rect x="151" y="549" width="1" height="1"/>
<rect x="152" y="548" width="1" height="1"/>
<rect x="156" y="546" width="1" height="1"/>
<rect x="157" y="545" width="1" height="1"/>
<rect x="158" y="545" width="1" height="1"/>
<rect x="162" y="542" width="1" height="1"/>
<rect x="163" y="542" width="1" height="1"/>
<rect x="164" y="541" width="1" height="1"/>
<rect x="168" y="538" width="1" height="1"/>
<rect x="169" y="537" width="1" height="1"/>
<rect x="170" y="537" width="1" height="1"/>
<rect x="174" y="533" width="1" height="1"/>
<rect x="175" y="532" width="1" height="1"/>
<rect x="176" y="531" width="1" height="1"/>
<rect x="180" y="527" width="1" height="1"/>
<rect x="181" y="526" width="1" height="1"/>
<rect x="181" y="525" width="1" height="1"/>
<rect x="185" y="521" width="1" height="1"/>
<rect x="186" y="520" width="1" height="1"/>
<rect x="187" y="519" width="1" height="1"/>
<rect x="191" y="516" width="1" height="1"/>
<rect x="192" y="516" width="1" height="1"/>
<rect x="193" y="516" width="1" height="1"/>
<rect x="197" y="515" width="1" height="1"/>
<rect x="198" y="515" width="1" height="1"/>
<rect x="199" y="515" width="1" height="1"/>
<rect x="203" y="515" width="1" height="1"/>
<rect x="204" y="515" width="1" height="1"/>
<rect x="205" y="514" width="1" height="1"/>
<rect x="209" y="513" width="1" height="1"/>
<rect x="210" y="512" width="1" height="1"/>
<rect x="211" y="512" width="1" height="1"/>
<rect x="214" y="508" width="1" height="1"/>
<rect x="214" y="507" width="1" height="1"/>
<rect x="215" y="506" width="1" height="1"/>
<rect x="218" y="502" width="1" height="1"/>
<rect x="219" y="501" width="1" height="1"/>
<rect x="220" y="500" width="1" height="1"/>
<rect x="222" y="496" width="1" height="1"/>
<rect x="222" y="495" width="1" height="1"/>
<rect x="223" y="494" width="1" height="1"/>
<rect x="225" y="490" width="1" height="1"/>
<rect x="226" y="489" width="1" height="1"/>
<rect x="226" y="488" width="1" height="1"/>
<rect x="229" y="484" width="1" height="1"/>
<rect x="230" y="483" width="1" height="1"/>
<rect x="231" y="482" width="1" height="1"/>
<rect x="235" y="479" width="1" height="1"/>
<rect x="236" y="479" width="1" height="1"/>
<rect x="237" y="478" width="1" height="1"/>
<rect x="241" y="479" width="1" height="1"/>
<rect x="242" y="479" width="1" height="1"/>
<rect x="243" y="479" width="1" height="1"/>
<rect x="247" y="480" width="1" height="1"/>
<rect x="248" y="481" width="1" height="1"/>
<rect x="249" y="481" width="1" height="1"/>
<rect x="253" y="483" width="1" height="1"/>
<rect x="254" y="483" width="1" height="1"/>
<rect x="255" y="483" width="1" height="1"/>
<rect x="259" y="484" width="1" height="1"/>
<rect x="260" y="483" width="1" height="1"/>
<rect x="261" y="483" width="1" height="1"/>
<rect x="265" y="480" width="1" height="1"/>
<rect x="266" y="480" width="1" height="1"/>
<rect x="267" y="479" width="1" height="1"/>
<rect x="271" y="476" width="1" height="1"/>
<rect x="272" y="475" width="1" height="1"/>
<rect x="273" y="474" width="1" height="1"/>
<rect x="276" y="470" width="1" height="1"/>
<rect x="276" y="469" width="1" height="1"/>
<rect x="277" y="468" width="1" height="1"/>
<rect x="279" y="464" width="1" height="1"/>
<rect x="279" y="463" width="1" height="1"/>
<rect x="280" y="462" width="1" height="1"/>
<rect x="282" y="458" width="1" height="1"/>
<rect x="283" y="457" width="1" height="1"/>
<rect x="284" y="456" width="1" height="1"/>
<rect x="287" y="452" width="1" height="1"/>
<rect x="288" y="451" width="1" height="1"/>
<rect x="288" y="450" width="1" height="1"/>
<rect x="291" y="446" width="1" height="1"/>
<rect x="292" y="445" width="1" height="1"/>
<rect x="293" y="444" width="1" height="1"/>
<rect x="297" y="443" width="1" height="1"/>
<rect x="298" y="443" width="1" height="1"/>
<rect x="299" y="443" width="1" height="1"/>
<rect x="303" y="444" width="1" height="1"/>
<rect x="304" y="445" width="1" height="1"/>
<rect x="305" y="446" width="1" height="1"/>
<rect x="309" y="449" width="1" height="1"/>
<rect x="310" y="450" width="1" height="1"/>
<rect x="311" y="451" width="1" height="1"/>
<rect x="315" y="455" width="1" height="1"/>
<rect x="316" y="456" width="1" height="1"/>
<rect x="317" y="457" width="1" height="1"/>
<rect x="321" y="461" width="1" height="1"/>
<rect x="322" y="461" width="1" height="1"/>
<rect x="323" y="462" width="1" height="1"/>
<rect x="326" y="466" width="1" height="1"/>
<rect x="327" y="467" width="1" height="1"/>
<rect x="328" y="468" width="1" height="1"/>
<rect x="330" y="472" width="1" height="1"/>
<rect x="331" y="473" width="1" height="1"/>
<rect x="332" y="474" width="1" height="1"/>
<rect x="335" y="478" width="1" height="1"/>
<rect x="336" y="479" width="1" height="1"/>
<rect x="337" y="480" width="1" height="1"/>
<rect x="340" y="484" width="1" height="1"/>
<rect x="341" y="485" width="1" height="1"/>
<rect x="342" y="486" width="1" height="1"/>
<rect x="346" y="489" width="1" height="1"/>
<rect x="347" y="489" width="1" height="1"/>
<rect x="348" y="489" width="1" height="1"/>
<rect x="352" y="489" width="1" height="1"/>
<rect x="353" y="490" width="1" height="1"/>
<rect x="354" y="490" width="1" height="1"/>
<rect x="358" y="490" width="1" height="1"/>
<rect x="359" y="490" width="1" height="1"/>
<rect x="360" y="490" width="1" height="1"/>
<rect x="364" y="491" width="1" height="1"/>
<rect x="365" y="491" width="1" height="1"/>
<rect x="366" y="491" width="1" height="1"/>
<rect x="370" y="492" width="1" height="1"/>
<rect x="371" y="492" width="1" height="1"/>
<rect x="372" y="492" width="1" height="1"/>
<rect x="376" y="490" width="1" height="1"/>
<rect x="377" y="490" width="1" height="1"/>
<rect x="378" y="489" width="1" height="1"/>
<rect x="382" y="487" width="1" height="1"/>
<rect x="383" y="487" width="1" height="1"/>
<rect x="384" y="486" width="1" height="1"/>
<rect x="388" y="485" width="1" height="1"/>
<rect x="389" y="484" width="1" height="1"/>
<rect x="390" y="484" width="1" height="1"/>
<rect x="394" y="483" width="1" height="1"/>
<rect x="395" y="483" width="1" height="1"/>
<rect x="396" y="483" width="1" height="1"/>
<rect x="400" y="483" width="1" height="1"/>
<rect x="401" y="484" width="1" height="1"/>
<rect x="402" y="484" width="1" height="1"/>
<rect x="406" y="484" width="1" height="1"/>
<rect x="407" y="484" width="1" height="1"/>
<rect x="408" y="484" width="1" height="1"/>
<rect x="412" y="483" width="1" height="1"/>
<rect x="413" y="482" width="1" height="1"/>
<rect x="414" y="482" width="1" height="1"/>
<rect x="418" y="480" width="1" height="1"/>
<rect x="419" y="479" width="1" height="1"/>
<rect x="420" y="478" width="1" height="1"/>
<rect x="424" y="475" width="1" height="1"/>
<rect x="425" y="475" width="1" height="1"/>
<rect x="426" y="474" width="1" height="1"/>
<rect x="430" y="473" width="1" height="1"/>
<rect x="431" y="473" width="1" height="1"/>
<rect x="432" y="473" width="1" height="1"/>
<rect x="436" y="475" width="1" height="1"/>
<rect x="437" y="476" width="1" height="1"/>
<rect x="438" y="476" width="1" height="1"/>
<rect x="441" y="480" width="1" height="1"/>
<rect x="442" y="481" width="1" height="1"/>
<rect x="443" y="482" width="1" height="1"/>
<rect x="446" y="486" width="1" height="1"/>
<rect x="447" y="487" width="1" height="1"/>
<rect x="448" y="488" width="1" height="1"/>
<rect x="452" y="492" width="1" height="1"/>
<rect x="452" y="493" width="1" height="1"/>
<rect x="453" y="494" width="1" height="1"/>
<rect x="456" y="498" width="1" height="1"/>
<rect x="457" y="499" width="1" height="1"/>
<rect x="458" y="500" width="1" height="1"/>
<rect x="462" y="503" width="1" height="1"/>
<rect x="463" y="503" width="1" height="1"/>
<rect x="464" y="504" width="1" height="1"/>
<rect x="468" y="505" width="1" height="1"/>
<rect x="469" y="505" width="1" height="1"/>
<rect x="470" y="505" width="1" height="1"/>
<rect x="474" y="503" width="1" height="1"/>
<rect x="475" y="502" width="1" height="1"/>
<rect x="476" y="501" width="1" height="1"/>
<rect x="480" y="498" width="1" height="1"/>
<rect x="481" y="497" width="1" height="1"/>
<rect x="482" y="497" width="1" height="1"/>
<rect x="486" y="494" width="1" height="1"/>
<rect x="487" y="494" width="1" height="1"/>
<rect x="488" y="494" width="1" height="1"/>
<rect x="492" y="493" width="1" height="1"/>
<rect x="493" y="493" width="1" height="1"/>
<rect x="494" y="493" width="1" height="1"/>
<rect x="498" y="494" width="1" height="1"/>
<rect x="499" y="494" width="1" height="1"/>
<rect x="500" y="495" width="1" height="1"/>
<rect x="504" y="498" width="1" height="1"/>
<rect x="505" y="499" width="1" height="1"/>
<rect x="505" y="500" width="1" height="1"/>
<rect x="508" y="504" width="1" height="1"/>
<rect x="509" y="505" width="1" height="1"/>
<rect x="510" y="506" width="1" height="1"/>
<rect x="512" y="510" width="1" height="1"/>
<rect x="513" y="511" width="1" height="1"/>
<rect x="513" y="512" width="1" height="1"/>
<rect x="516" y="516" width="1" height="1"/>
<rect x="516" y="517" width="1" height="1"/>
<rect x="517" y="518" width="1" height="1"/>
<rect x="519" y="522" width="1" height="1"/>
<rect x="520" y="523" width="1" height="1"/>
<rect x="521" y="524" width="1" height="1"/>
<rect x="524" y="528" width="1" height="1"/>
<rect x="525" y="529" width="1" height="1"/>
<rect x="525" y="530" width="1" height="1"/>
<rect x="529" y="534" width="1" height="1"/>
<rect x="530" y="534" width="1" height="1"/>
<rect x="531" y="535" width="1" height="1"/>
<rect x="535" y="537" width="1" height="1"/>
<rect x="536" y="537" width="1" height="1"/>
<rect x="537" y="538" width="1" height="1"/>
<rect x="541" y="539" width="1" height="1"/>
<rect x="542" y="539" width="1" height="1"/>
<rect x="543" y="539" width="1" height="1"/>
<rect x="547" y="539" width="1" height="1"/>
<rect x="548" y="539" width="1" height="1"/>
<rect x="549" y="539" width="1" height="1"/>
<rect x="553" y="538" width="1" height="1"/>
<rect x="554" y="537" width="1" height="1"/>
<rect x="555" y="537" width="1" height="1"/>
<rect x="559" y="536" width="1" height="1"/>
<rect x="560" y="536" width="1" height="1"/>
<rect x="561" y="537" width="1" height="1"/>
<rect x="565" y="538" width="1" height="1"/>
<rect x="566" y="538" width="1" height="1"/>
<rect x="567" y="538" width="1" height="1"/>
<rect x="571" y="541" width="1" height="1"/>
<rect x="572" y="542" width="1" height="1"/>
<rect x="573" y="543" width="1" height="1"/>
<rect x="577" y="547" width="1" height="1"/>
<rect x="578" y="547" width="1" height="1"/>
<rect x="579" y="548" width="1" height="1"/>
<rect x="583" y="550" width="1" height="1"/>
<rect x="584" y="550" width="1" height="1"/>
<rect x="585" y="551" width="1" height="1"/>
<rect x="589" y="551" width="1" height="1"/>
<rect x="590" y="551" width="1" height="1"/>
<rect x="591" y="551" width="1" height="1"/>
<rect x="595" y="551" width="1" height="1"/>
<rect x="596" y="551" width="1" height="1"/>
<rect x="597" y="551" width="1" height="1"/>
<rect x="601" y="552" width="1" height="1"/>
<rect x="602" y="553" width="1" height="1"/>
<rect x="603" y="553" width="1" height="1"/>
<rect x="607" y="554" width="1" height="1"/>
<rect x="608" y="555" width="1" height="1"/>
<rect x="609" y="555" width="1" height="1"/>
<rect x="613" y="557" width="1" height="1"/>
<rect x="614" y="558" width="1" height="1"/>
<rect x="615" y="558" width="1" height="1"/>
<rect x="619" y="559" width="1" height="1"/>
<rect x="620" y="559" width="1" height="1"/>
<rect x="621" y="559" width="1" height="1"/>
<rect x="625" y="560" width="1" height="1"/>
<rect x="626" y="560" width="1" height="1"/>
<rect x="627" y="560" width="1" height="1"/>
<rect x="631" y="560" width="1" height="1"/>
<rect x="632" y="560" width="1" height="1"/>
<rect x="633" y="559" width="1" height="1"/>
<rect x="637" y="558" width="1" height="1"/>
<rect x="638" y="558" width="1" height="1"/>
<rect x="639" y="558" width="1" height="1"/>
<rect x="643" y="556" width="1" height="1"/>
<rect x="644" y="555" width="1" height="1"/>
<rect x="645" y="555" width="1" height="1"/>
<rect x="648" y="552" width="1" height="1"/>
<rect x="649" y="551" width="1" height="1"/>
<rect x="650" y="550" width="1" height="1"/>
<rect x="652" y="546" width="1" height="1"/>
<rect x="653" y="545" width="1" height="1"/>
<rect x="653" y="544" width="1" height="1"/>
<rect x="656" y="540" width="1" height="1"/>
<rect x="656" y="539" width="1" height="1"/>
<rect x="657" y="538" width="1" height="1"/>
<rect x="659" y="534" width="1" height="1"/>
<rect x="660" y="533" width="1" height="1"/>
<rect x="660" y="532" width="1" height="1"/>
<rect x="662" y="528" width="1" height="1"/>
<rect x="663" y="527" width="1" height="1"/>
<rect x="663" y="526" width="1" height="1"/>
<rect x="665" y="522" width="1" height="1"/>
<rect x="666" y="521" width="1" height="1"/>
<rect x="666" y="520" width="1" height="1"/>
<rect x="669" y="516" width="1" height="1"/>
<rect x="669" y="515" width="1" height="1"/>
<rect x="670" y="514" width="1" height="1"/>
<rect x="674" y="511" width="1" height="1"/>
<rect x="675" y="510" width="1" height="1"/>
<rect x="676" y="510" width="1" height="1"/>
<rect x="680" y="509" width="1" height="1"/>
<rect x="681" y="508" width="1" height="1"/>
<rect x="682" y="508" width="1" height="1"/>
<rect x="686" y="507" width="1" height="1"/>
<rect x="687" y="507" width="1" height="1"/>
<rect x="688" y="507" width="1" height="1"/>
<rect x="692" y="506" width="1" height="1"/>
<rect x="693" y="505" width="1" height="1"/>
<rect x="694" y="505" width="1" height="1"/>
<rect x="698" y="505" width="1" height="1"/>
<rect x="699" y="505" width="1" height="1"/>
<rect x="700" y="505" width="1" height="1"/>
<rect x="704" y="507" width="1" height="1"/>
<rect x="705" y="508" width="1" height="1"/>
<rect x="706" y="508" width="1" height="1"/>
<rect x="710" y="511" width="1" height="1"/>
<rect x="711" y="512" width="1" height="1"/>
<rect x="712" y="513" width="1" height="1"/>
<rect x="715" y="517" width="1" height="1"/>
<rect x="716" y="518" width="1" height="1"/>
<rect x="717" y="519" width="1" height="1"/>
<rect x="721" y="523" width="1" height="1"/>
<rect x="722" y="524" width="1" height="1"/>
<rect x="723" y="525" width="1" height="1"/>
<rect x="727" y="528" width="1" height="1"/>
<rect x="728" y="529" width="1" height="1"/>
<rect x="729" y="529" width="1" height="1"/>
<rect x="733" y="531" width="1" height="1"/>
<rect x="734" y="531" width="1" height="1"/>
<rect x="735" y="531" width="1" height="1"/>
</g>
<g shape-rendering="crispEdges" fill="#000">
<rect x="2" y="2" width="759" height="1"/>
<rect x="2" y="428" width="759" height="1"/>
<rect x="2" y="2" width="1" height="427"/>
<rect x="760" y="2" width="1" height="427"/>
<rect x="2" y="430" width="759" height="1"/>
<rect x="2" y="582" width="759" height="1"/>
<rect x="2" y="430" width="1" height="153"/>
<rect x="760" y="430" width="1" height="153"/>
<rect x="761" y="17" width="2" height="1"/>
<rect x="761" y="57" width="2" height="1"/>
<rect x="761" y="96" width="2" height="1"/>
<rect x="761" y="136" width="2" height="1"/>
<rect x="761" y="176" width="2" height="1"/>
<rect x="761" y="215" width="2" height="1"/>
<rect x="761" y="255" width="2" height="1"/>
<rect x="761" y="295" width="2" height="1"/>
<rect x="761" y="335" width="2" height="1"/>
<rect x="761" y="375" width="2" height="1"/>
<rect x="761" y="414" width="2" height="1"/>
<rect x="761" y="432" width="2" height="1"/>
<rect x="761" y="527" width="2" height="1"/>
<rect x="761" y="581" width="2" height="1"/>
<rect x="3" y="583" width="1" height="3"/>
<rect x="67" y="583" width="1" height="3"/>
<rect x="131" y="583" width="1" height="3"/>
<rect x="195" y="583" width="1" height="3"/>
<rect x="259" y="583" width="1" height="3"/>
<rect x="323" y="583" width="1" height="3"/>
<rect x="387" y="583" width="1" height="3"/>
<rect x="451" y="583" width="1" height="3"/>
<rect x="515" y="583" width="1" height="3"/>
<rect x="579" y="583" width="1" height="3"/>
<rect x="643" y="583" width="1" height="3"/>
<rect x="707" y="583" width="1" height="3"/>
</g>
<text x="765.89" y="20" textLength="28.40" lengthAdjust="spacingAndGlyphs" style="fill:#000">102.85</text>
<text x="765.89" y="60" textLength="28.37" lengthAdjust="spacingAndGlyphs" style="fill:#000">102.70</text>
<text x="765.89" y="99" textLength="28.40" lengthAdjust="spacingAndGlyphs" style="fill:#000">102.55</text>
<text x="765.89" y="139" textLength="28.37" lengthAdjust="spacingAndGlyphs" style="fill:#000">102.40</text>
<text x="765.89" y="179" textLength="28.40" lengthAdjust="spacingAndGlyphs" style="fill:#000">102.25</text>
<text x="765.89" y="218" textLength="28.37" lengthAdjust="spacingAndGlyphs" style="fill:#000">102.10</text>
<text x="765.89" y="258" textLength="28.40" lengthAdjust="spacingAndGlyphs" style="fill:#000">101.95</text>
<text x="765.89" y="298" textLength="28.37" lengthAdjust="spacingAndGlyphs" style="fill:#000">101.80</text>
<text x="765.89" y="338" textLength="28.40" lengthAdjust="spacingAndGlyphs" style="fill:#000">101.65</text>
<text x="765.89" y="378" textLength="28.37" lengthAdjust="spacingAndGlyphs" style="fill:#000">101.50</text>
<text x="765.89" y="417" textLength="28.40" lengthAdjust="spacingAndGlyphs" style="fill:#000">101.35</text>
<rect x="762" y="24" width="36" height="11" fill="#FF0000"/>
<text x="765.69" y="33" textLength="28.37" lengthAdjust="spacingAndGlyphs" style="fill:#fff">102.80</text>
<rect x="762" y="209" width="36" height="11" fill="#FF0000"/>
<text x="765.69" y="218" textLength="28.37" lengthAdjust="spacingAndGlyphs" style="fill:#fff">102.10</text>
<rect x="762" y="261" width="36" height="11" fill="#FF0000"/>
<text x="765.69" y="270" textLength="28.46" lengthAdjust="spacingAndGlyphs" style="fill:#fff">101.91</text>
<rect x="762" y="390" width="36" height="11" fill="#FF0000"/>
<text x="765.69" y="399" textLength="28.48" lengthAdjust="spacingAndGlyphs" style="fill:#fff">101.42</text>
<rect x="762" y="122" width="36" height="11" fill="#000"/>
<text x="765.69" y="131" textLength="28.42" lengthAdjust="spacingAndGlyphs" style="fill:#fff">102.43</text>
<text x="763.64" y="441" textLength="22.80" lengthAdjust="spacingAndGlyphs" style="fill:#000">0.361</text>
<text x="763.93" y="530" textLength="18.34" lengthAdjust="spacingAndGlyphs" style="fill:#000">0.00</text>
<text x="763.69" y="579" textLength="26.39" lengthAdjust="spacingAndGlyphs" style="fill:#000">-0.204</text>
<path d="M6,9h7v1h-1v1h-1v1h-1v1h-1v-1h-1v-1h-1v-1h-1z" fill="#000" shape-rendering="crispEdges"/>
<text x="18.04" y="14" textLength="50.66" lengthAdjust="spacingAndGlyphs" style="fill:#000">USDJPY,H1</text>
<text x="75.05" y="14" textLength="120.56" lengthAdjust="spacingAndGlyphs" style="fill:#000">102.46 102.49 102.42 102.43</text>
<text x="6.98" y="443" textLength="119.10" lengthAdjust="spacingAndGlyphs" style="fill:#000">MACD(5,34,5) -0.021 -0.012</text>
<text x="7.23" y="578" textLength="230.84" lengthAdjust="spacingAndGlyphs" style="fill:#000">MetaTrader, &#169; 2001-2014, MetaQuotes Software Corp.</text>
<text x="1.72" y="595" textLength="54.96" lengthAdjust="spacingAndGlyphs" style="fill:#000">28 May 2014</text>
<text x="66.52" y="595" textLength="57.35" lengthAdjust="spacingAndGlyphs" style="fill:#000">29 May 12:00</text>
<text x="130.64" y="595" textLength="57.23" lengthAdjust="spacingAndGlyphs" style="fill:#000">30 May 04:00</text>
<text x="194.64" y="595" textLength="57.48" lengthAdjust="spacingAndGlyphs" style="fill:#000">30 May 20:00</text>
<text x="258.54" y="595" textLength="47.31" lengthAdjust="spacingAndGlyphs" style="fill:#000">2 Jun 13:00</text>
<text x="322.15" y="595" textLength="47.70" lengthAdjust="spacingAndGlyphs" style="fill:#000">3 Jun 05:00</text>
<text x="386.65" y="595" textLength="47.45" lengthAdjust="spacingAndGlyphs" style="fill:#000">3 Jun 21:00</text>
<text x="449.79" y="595" textLength="48.07" lengthAdjust="spacingAndGlyphs" style="fill:#000">4 Jun 13:00</text>
<text x="514.14" y="595" textLength="47.47" lengthAdjust="spacingAndGlyphs" style="fill:#000">5 Jun 05:00</text>
<text x="578.13" y="595" textLength="47.72" lengthAdjust="spacingAndGlyphs" style="fill:#000">5 Jun 21:00</text>
<text x="641.53" y="595" textLength="48.33" lengthAdjust="spacingAndGlyphs" style="fill:#000">6 Jun 13:00</text>
<text x="705.82" y="595" textLength="48.29" lengthAdjust="spacingAndGlyphs" style="fill:#000">9 Jun 06:00</text>
</svg></body></html>
